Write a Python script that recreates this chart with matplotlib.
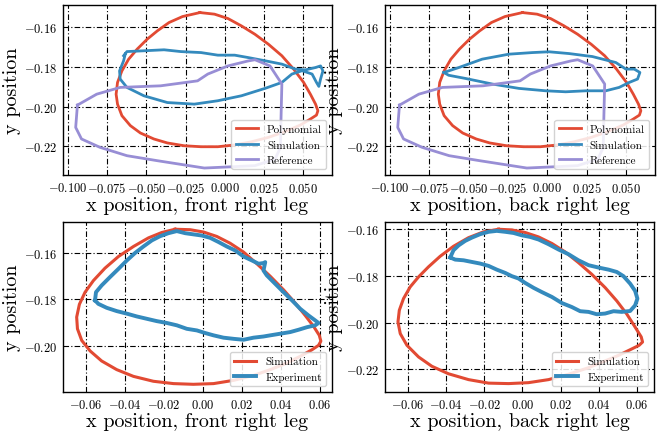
import matplotlib.pyplot as plt
from matplotlib.ticker import MultipleLocator

plt.rcParams['font.family'] = 'cmr10'
plt.rcParams['mathtext.fontset'] = 'cm'
plt.rcParams['axes.formatter.use_mathtext'] = True

# polinomio (igual en las dos patas de arriba)
poly_x = [-0.0158, -0.0065, 0.0021, 0.0107, 0.0193, 0.0279, 0.0365, 0.044, 0.0504, 0.0547,
          0.058, 0.0595, 0.0586, 0.0547, 0.0483, 0.0386, 0.0279, 0.0171, 0.0064, -0.0044,
          -0.0151, -0.0259, -0.0366, -0.0452, -0.0538, -0.0602, -0.0656, -0.0684, -0.0693,
          -0.0684, -0.0656, -0.0613, -0.0559, -0.0495, -0.043, -0.0355, -0.0269, -0.0158]
poly_y = [-0.1528, -0.1536, -0.1558, -0.1595, -0.1637, -0.1687, -0.1745, -0.1812, -0.1879, -0.1938,
          -0.1988, -0.2021, -0.2043, -0.2063, -0.2093, -0.2126, -0.2155, -0.2177, -0.2193, -0.2202,
          -0.2202, -0.2197, -0.2183, -0.2163, -0.2133, -0.2096, -0.2046, -0.1988, -0.1938,
          -0.1879, -0.1821, -0.1762, -0.1712, -0.1662, -0.162, -0.1578, -0.1548, -0.1528]

# referencia
ref_x = [-0.094, -0.0951, -0.0914, -0.0796, -0.0624, -0.0431, -0.013, 0.0064, 0.0193, 0.0322,
         0.0356, 0.036, 0.0365, 0.0289, 0.0193, 0.015, 0.0021, -0.0108, -0.0173, -0.0409,
         -0.0667, -0.0817, -0.094]
ref_y = [-0.1993, -0.2105, -0.2163, -0.2205, -0.2247, -0.2272, -0.2309, -0.2302, -0.2297, -0.2264,
         -0.2205, -0.2046, -0.1887, -0.1796, -0.1765, -0.1771, -0.1796, -0.1837, -0.1871, -0.1896,
         -0.1904, -0.1938, -0.1993]

# simulacion, pata delantera
simF_x = [-0.0645, -0.0624, -0.0516, -0.0387, -0.028, -0.0151, -0.0044, 0.0064, 0.015, 0.0257,
          0.0365, 0.0451, 0.0515, 0.058, 0.0612, 0.0627, 0.0612, 0.0601, 0.0586, 0.0558,
          0.0494, 0.0429, 0.0365, 0.0257, 0.0107, -0.0044, -0.0194, -0.0366, -0.0516, -0.0624,
          -0.0667, -0.0671, -0.0645, -0.0635]
simF_y = [-0.1745, -0.1724, -0.172, -0.1715, -0.1724, -0.1729, -0.1742, -0.1742, -0.1754, -0.177,
          -0.1787, -0.1812, -0.1816, -0.1804, -0.1796, -0.1821, -0.1862, -0.1899, -0.1879, -0.1837,
          -0.182, -0.1837, -0.1879, -0.1909, -0.1946, -0.1971, -0.1988, -0.198, -0.1946, -0.1904,
          -0.1862, -0.1821, -0.177, -0.1737]

# simulacion, pata trasera
simB_x = [-0.0658, -0.0562, -0.0414, -0.0244, -0.0095, 0.0011, 0.0139, 0.0287, 0.0436, 0.05,
          0.0553, 0.0589, 0.0574, 0.0521, 0.0457, 0.0372, 0.0245, 0.0117, -0.001, -0.018,
          -0.035, -0.052, -0.0627, -0.0658]
simB_y = [-0.1829, -0.1804, -0.1762, -0.1737, -0.1729, -0.1725, -0.1734, -0.1749, -0.1779, -0.1812,
          -0.1812, -0.1829, -0.1862, -0.1879, -0.1904, -0.1921, -0.1921, -0.1926, -0.1921, -0.1909,
          -0.1887, -0.1859, -0.1843, -0.1829]

# abajo: simulacion vs experimento, pata delantera
sim2F_x = [-0.0144, -0.0067, 0.0002, 0.007, 0.0138, 0.0207, 0.0275, 0.0344, 0.0412, 0.0472,
           0.0523, 0.0566, 0.0595, 0.0603, 0.0591, 0.0557, 0.0497, 0.0429, 0.0344, 0.0258,
           0.0156, 0.0053, -0.005, -0.0152, -0.0255, -0.0357, -0.0443, -0.052, -0.0579, -0.0622,
           -0.0644, -0.0648, -0.0634, -0.0605, -0.0562, -0.0503, -0.0434, -0.0357, -0.028,
           -0.0212, -0.0144]
sim2F_y = [-0.1499, -0.1501, -0.1511, -0.153, -0.1559, -0.1597, -0.1647, -0.1701, -0.1759, -0.1816,
           -0.1869, -0.1916, -0.1954, -0.1979, -0.1997, -0.2016, -0.2044, -0.2073, -0.2101, -0.2126,
           -0.2147, -0.2161, -0.2164, -0.2161, -0.2151, -0.213, -0.2101, -0.2064, -0.2021, -0.1976,
           -0.1926, -0.1876, -0.1821, -0.1769, -0.1719, -0.1666, -0.1616, -0.1573, -0.1536,
           -0.1513, -0.1499]
expF_x = [-0.0554, -0.0549, -0.052, -0.0477, -0.0434, -0.0391, -0.0349, -0.0306, -0.0263, -0.0221,
          -0.0178, -0.0135, -0.0092, -0.005, -0.0007, 0.0036, 0.0079, 0.0121, 0.0164, 0.0207,
          0.025, 0.0284, 0.0309, 0.0318, 0.0309, 0.0326, 0.0369, 0.0412, 0.0455, 0.0497,
          0.054, 0.0574, 0.0591, 0.0574, 0.0532, 0.0489, 0.0446, 0.0395, 0.0344, 0.0309,
          0.0258, 0.0207, 0.0156, 0.0104, 0.0053, 0.001, -0.0032, -0.0084, -0.0135, -0.0186,
          -0.0238, -0.0289, -0.034, -0.0391, -0.0443, -0.0494, -0.0537, -0.0554]
expF_y = [-0.1804, -0.1769, -0.174, -0.1704, -0.1669, -0.1633, -0.1601, -0.1573, -0.1547, -0.1529,
          -0.1516, -0.1507, -0.1516, -0.1521, -0.1526, -0.1536, -0.1554, -0.1573, -0.159, -0.1616,
          -0.1633, -0.1647, -0.1644, -0.164, -0.1676, -0.1697, -0.1733, -0.1769, -0.1804, -0.184,
          -0.1869, -0.189, -0.1901, -0.1911, -0.1919, -0.193, -0.194, -0.1947, -0.1954, -0.1959,
          -0.1964, -0.1973, -0.1969, -0.1964, -0.1954, -0.1944, -0.1933, -0.1926, -0.1911, -0.1901,
          -0.1893, -0.1883, -0.1873, -0.1861, -0.185, -0.1836, -0.1819, -0.1804]

# abajo: pata trasera
sim2B_x = [-0.0125, -0.0055, 0.0015, 0.0085, 0.0155, 0.0224, 0.0294, 0.0364, 0.0434, 0.0495,
           0.0548, 0.0591, 0.0623, 0.063, 0.0612, 0.0565, 0.0504, 0.0434, 0.0347, 0.0242,
           0.0137, 0.0032, -0.0072, -0.0177, -0.0282, -0.0387, -0.0474, -0.0544, -0.0605, -0.064,
           -0.0652, -0.0645, -0.0623, -0.0588, -0.0544, -0.0492, -0.0431, -0.0361, -0.0282,
           -0.0203, -0.0125]
sim2B_y = [-0.16, -0.1603, -0.1614, -0.1633, -0.1661, -0.1697, -0.1743, -0.1793, -0.185, -0.1907,
           -0.1964, -0.2019, -0.2061, -0.2083, -0.2097, -0.2116, -0.214, -0.2164, -0.2193, -0.2221,
           -0.2244, -0.2257, -0.2261, -0.2259, -0.2244, -0.2219, -0.2187, -0.2147, -0.2097, -0.2047,
           -0.1997, -0.1947, -0.1897, -0.1847, -0.1804, -0.1761, -0.1716, -0.1673, -0.1636,
           -0.1611, -0.16]
expB_x = [-0.0378, -0.0361, -0.0334, -0.03, -0.0265, -0.0221, -0.0177, -0.0134, -0.009, -0.0046,
          -0.0003, 0.0041, 0.0085, 0.0137, 0.019, 0.0242, 0.0294, 0.0347, 0.0399, 0.0452,
          0.0495, 0.053, 0.0565, 0.0591, 0.0603, 0.0591, 0.0565, 0.0521, 0.0478, 0.0434,
          0.039, 0.0347, 0.0303, 0.0259, 0.0207, 0.0155, 0.0102, 0.0059, 0.0015, -0.002,
          -0.0055, -0.009, -0.0134, -0.0177, -0.0221, -0.0265, -0.0308, -0.0352, -0.0378]
expB_y = [-0.1721, -0.169, -0.1669, -0.165, -0.1636, -0.1621, -0.1611, -0.1607, -0.1611, -0.1616,
          -0.1626, -0.1633, -0.1644, -0.1664, -0.1687, -0.1707, -0.1733, -0.1754, -0.1764, -0.1773,
          -0.1783, -0.1801, -0.1833, -0.1864, -0.1897, -0.1926, -0.195, -0.1954, -0.1951, -0.1961,
          -0.1964, -0.1954, -0.1951, -0.1933, -0.1916, -0.189, -0.1869, -0.1851, -0.183, -0.1811,
          -0.1801, -0.1787, -0.1773, -0.1757, -0.1747, -0.174, -0.1733, -0.173, -0.1721]

rojo = '#E24A33'
azul = '#348ABD'
morado = '#988ED5'

fig = plt.figure(figsize=(6.64, 4.35), dpi=100)
W, H = 664, 435
ax1 = fig.add_axes([63 / W, 1 - 176 / H, 269 / W, 170 / H])
ax2 = fig.add_axes([385 / W, 1 - 176 / H, 270 / W, 170 / H])
ax3 = fig.add_axes([63 / W, 1 - 393 / H, 269 / W, 170 / H])
ax4 = fig.add_axes([385 / W, 1 - 393 / H, 269 / W, 170 / H])

ax1.plot(poly_x, poly_y, color=rojo, lw=2, label='Polynomial')
ax1.plot(simF_x, simF_y, color=azul, lw=2, label='Simulation')
ax1.plot(ref_x, ref_y, color=morado, lw=2, label='Reference')
ax2.plot(poly_x, poly_y, color=rojo, lw=2, label='Polynomial')
ax2.plot(simB_x, simB_y, color=azul, lw=2, label='Simulation')
ax2.plot(ref_x, ref_y, color=morado, lw=2, label='Reference')
ax3.plot(sim2F_x, sim2F_y, color=rojo, lw=2.2, label='Simulation')
ax3.plot(expF_x, expF_y, color=azul, lw=2.8, label='Experiment')
ax4.plot(sim2B_x, sim2B_y, color=rojo, lw=2.2, label='Simulation')
ax4.plot(expB_x, expB_y, color=azul, lw=2.8, label='Experiment')

ax1.set_xlim(-0.1032, 0.0685)
ax2.set_xlim(-0.1032, 0.0685)
ax1.set_ylim(-0.2344, -0.149)
ax2.set_ylim(-0.2344, -0.149)
ax3.set_xlim(-0.0718, 0.066)
ax3.set_ylim(-0.2197, -0.1468)
ax4.set_xlim(-0.072, 0.069)
ax4.set_ylim(-0.2297, -0.1569)
for ax in [ax3, ax4]:
    ax.xaxis.set_major_locator(MultipleLocator(0.02))
    ax.yaxis.set_major_locator(MultipleLocator(0.02))

ax1.set_xlabel('x position, front right leg', fontsize=14.5, labelpad=1)
ax2.set_xlabel('x position, back right leg', fontsize=14.5, labelpad=1)
ax3.set_xlabel('x position, front right leg', fontsize=14.5, labelpad=1)
ax4.set_xlabel('x position, back right leg', fontsize=14.5, labelpad=1)

for ax in [ax1, ax2, ax3, ax4]:
    ax.set_ylabel('y position', fontsize=14.5, labelpad=2)
    ax.grid(True, color='black', linestyle=(0, (5, 2, 1, 2)), linewidth=0.8)
    ax.tick_params(labelsize=9, direction='in', length=0, pad=4)
    for s in ax.spines.values():
        s.set_linewidth(1)
    ax.legend(loc='lower right', fontsize=8, framealpha=0.85, edgecolor='#cccccc')

plt.savefig('out.png', dpi=100)
